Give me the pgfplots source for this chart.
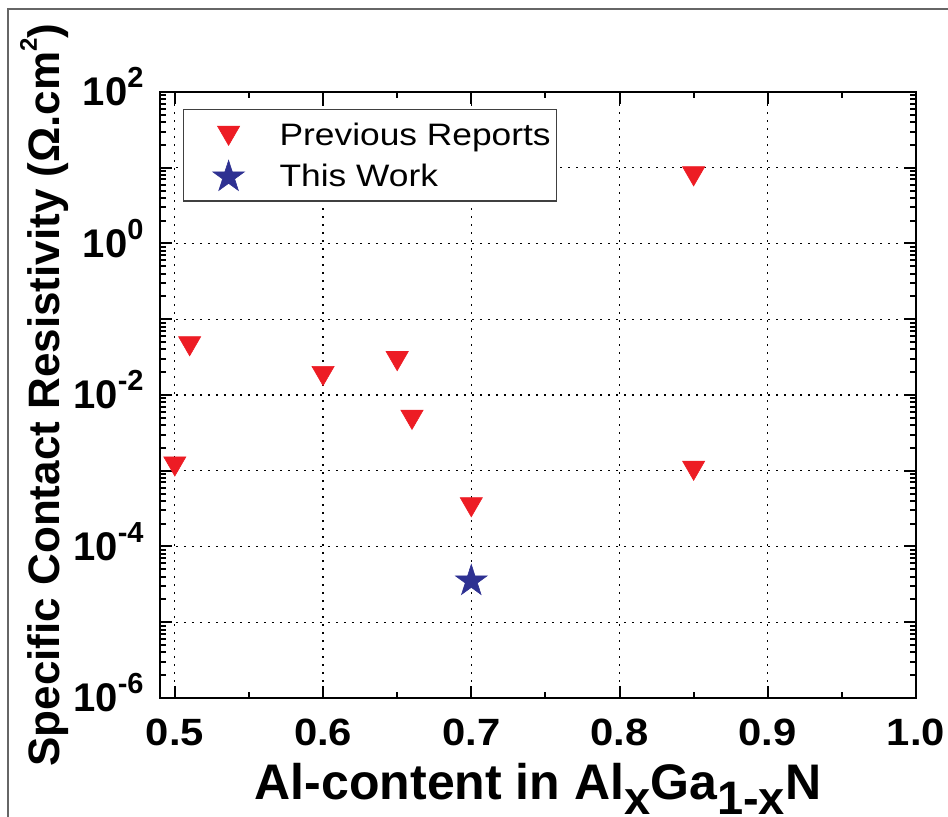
\documentclass[border=0pt]{standalone}
\usepackage{fontspec}
\setmainfont{Liberation Sans}
\usepackage{graphicx}
\usepackage{pgfplots}
\pgfplotsset{compat=1.18}

\definecolor{prevred}{RGB}{237,28,36}
\definecolor{workblue}{RGB}{46,49,146}

% filled five-pointed star
\pgfdeclareplotmark{fstar}{%
  \pgfpathmoveto{\pgfpointpolar{90}{\pgfplotmarksize}}%
  \pgfpathlineto{\pgfpointpolar{126}{0.382\pgfplotmarksize}}%
  \pgfpathlineto{\pgfpointpolar{162}{\pgfplotmarksize}}%
  \pgfpathlineto{\pgfpointpolar{198}{0.382\pgfplotmarksize}}%
  \pgfpathlineto{\pgfpointpolar{234}{\pgfplotmarksize}}%
  \pgfpathlineto{\pgfpointpolar{270}{0.382\pgfplotmarksize}}%
  \pgfpathlineto{\pgfpointpolar{306}{\pgfplotmarksize}}%
  \pgfpathlineto{\pgfpointpolar{342}{0.382\pgfplotmarksize}}%
  \pgfpathlineto{\pgfpointpolar{18}{\pgfplotmarksize}}%
  \pgfpathlineto{\pgfpointpolar{54}{0.382\pgfplotmarksize}}%
  \pgfpathclose
  \pgfusepathqfillstroke}

\newcommand{\pw}[1]{10\raisebox{9pt}{\fontsize{14.5}{15}\selectfont #1}}
\newcommand{\lgtxt}[1]{\scalebox{1.14}[1]{#1}}
\newcommand{\sub}[1]{\raisebox{-7.5pt}{\fontsize{23.5}{24}\selectfont #1}}

\pgfplotsset{
  legmark/.style={legend image code/.code={%
    \path[draw=none, fill=none] (0pt,0pt) -- (39pt,0pt);
    \draw[##1, overlay] plot coordinates {(19.5pt,5pt)};}}
}

\begin{document}
\begin{tikzpicture}[
  xtl/.style={font=\fontsize{19}{19}\selectfont\bfseries, inner sep=0pt,
    anchor=north, text height=13.6pt, text depth=0pt, yshift=-10pt, xscale=1.1},
  ytl/.style={font=\fontsize{20}{20}\selectfont\bfseries, inner sep=0pt,
    anchor=base east, xshift=-8pt, yshift=-7pt}
]
\begin{axis}[
  at={(0pt,0pt)}, anchor=south west,
  scale only axis, width=378pt, height=303pt,
  ymode=log,
  xmin=0.49, xmax=1.0, ymin=1e-6, ymax=1e2,
  xtick={0.5,0.6,0.7,0.8,0.9,1.0},
  xticklabels={},
  minor xtick={0.55,0.65,0.75,0.85,0.95},
  ytick={1e-6,1e-5,1e-4,1e-3,1e-2,1e-1,1,1e1,1e2},
  yticklabels={},
  minor ytick={2e-6,3e-6,4e-6,5e-6,6e-6,7e-6,8e-6,9e-6,
               2e-5,3e-5,4e-5,5e-5,6e-5,7e-5,8e-5,9e-5,
               2e-4,3e-4,4e-4,5e-4,6e-4,7e-4,8e-4,9e-4,
               2e-3,3e-3,4e-3,5e-3,6e-3,7e-3,8e-3,9e-3,
               2e-2,3e-2,4e-2,5e-2,6e-2,7e-2,8e-2,9e-2,
               0.2,0.3,0.4,0.5,0.6,0.7,0.8,0.9,
               2,3,4,5,6,7,8,9,
               20,30,40,50,60,70,80,90},
  tick align=inside,
  major tick length=6pt, minor tick length=3pt,
  every tick/.style={black, line width=1pt},
  axis line style={line width=1.3pt},
  grid=major,
  major grid style={black, line width=0.65pt, dash pattern=on 0.8pt off 3.2pt},
  xlabel={Al-content in Al\sub{x}Ga\sub{1-x}N},
  xlabel style={font=\fontsize{25}{25}\selectfont\bfseries,
    at={(axis description cs:0.5,-0.1683)}, anchor=base, inner sep=0pt},
  ylabel={Specific Contact Resistivity (Ω.cm\raisebox{11.5pt}{\fontsize{12}{12}\selectfont 2})},
  ylabel style={font=\fontsize{22}{22}\selectfont\bfseries,
    at={(axis description cs:-0.1323,0.5)}, anchor=base, inner sep=0pt},
  legend style={at={(axis description cs:0,1)}, anchor=north west,
    xshift=11.5pt, yshift=-8.5pt,
    draw=black!75, line width=0.6pt, fill=white,
    inner xsep=3pt, inner ysep=7pt,
    column sep=6pt, row sep=9.5pt,
    cells={anchor=base west},
    nodes={inner sep=0pt, text height=11.1pt, text depth=0pt},
    font=\fontsize{15.5}{16}\selectfont},
  clip=false,
]
\addplot[only marks, legmark, mark=triangle*, mark size=6.4pt,
  mark options={yshift=1.6pt, rotate=180, fill=prevred, draw=prevred, line width=0.3pt}]
  coordinates {
    (0.50,0.00114)
    (0.51,0.044)
    (0.60,0.0178)
    (0.65,0.028)
    (0.66,0.0047)
    (0.70,0.00033)
    (0.85,7.7)
    (0.85,0.001)
  };
\addlegendentry{\lgtxt{Previous Reports}}
\addplot[only marks, legmark, mark=fstar, mark size=8.3pt,
  mark options={fill=workblue, draw=workblue, line width=0.3pt}]
  coordinates {(0.70,3.5e-5)};
\addlegendentry{\lgtxt{This Work}}

% tick labels
\node[xtl] at (axis cs:0.5,1e-6) {0.5};
\node[xtl] at (axis cs:0.6,1e-6) {0.6};
\node[xtl] at (axis cs:0.7,1e-6) {0.7};
\node[xtl] at (axis cs:0.8,1e-6) {0.8};
\node[xtl] at (axis cs:0.9,1e-6) {0.9};
\node[xtl] at (axis cs:1.0,1e-6) {1.0};
\node[ytl] at (axis cs:0.49,1e-6) {\pw{-6}};
\node[ytl] at (axis cs:0.49,1e-4) {\pw{-4}};
\node[ytl] at (axis cs:0.49,1e-2) {\pw{-2}};
\node[ytl] at (axis cs:0.49,1) {\pw{0}};
\node[ytl] at (axis cs:0.49,1e2) {\pw{2}};
\end{axis}
\draw[black!60, line width=0.8pt] (-76pt,-80pt) |- (430pt,344.5pt);
\pgfresetboundingbox
\useasboundingbox (-80pt,-59.5pt) rectangle (394pt,349pt);
\end{tikzpicture}
\end{document}
